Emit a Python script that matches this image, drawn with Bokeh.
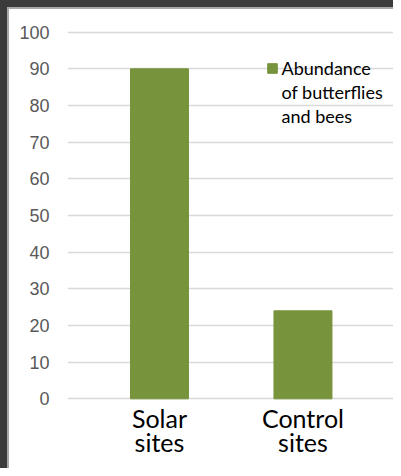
from bokeh.plotting import figure
from bokeh.models import ColumnDataSource, Range1d, Legend, LegendItem, FixedTicker, Spacer
from bokeh.layouts import row, column
from bokeh.embed import file_html
from bokeh.resources import INLINE

categories = ["Solar\nsites", "Control\nsites"]
abundance = [90, 24]
y_ticks = [0, 10, 20, 30, 40, 50, 60, 70, 80, 90, 100]
legend_lines = ["Abundance", "of butterflies", "and bees"]

DARK = "#3b3b3b"
FRAME = "#a8a8a8"

positions = list(range(len(categories)))
src = ColumnDataSource(dict(x=positions, top=abundance))

p = figure(width=384, height=459, output_backend="svg", toolbar_location=None,
           x_range=Range1d(-0.641, 1.631), y_range=Range1d(-1, 101),
           min_border_left=58, min_border_right=0, min_border_top=19, min_border_bottom=66)
p.outline_line_color = None
p.background_fill_color = "white"
p.border_fill_color = "white"

r = p.vbar(x="x", top="top", bottom=0, width=0.404, source=src, color="#77933C")
blank = p.vbar(x=[], top=[], width=0.4, fill_alpha=0, line_alpha=0)

p.xgrid.grid_line_color = None
p.ygrid.grid_line_color = "#d9d9d9"
p.ygrid.grid_line_width = 1.5
p.ygrid.ticker = FixedTicker(ticks=y_ticks)

ya = p.yaxis[0]
ya.ticker = FixedTicker(ticks=y_ticks)
ya.axis_line_color = None
ya.major_tick_line_color = None
ya.minor_tick_line_color = None
ya.major_tick_out = 0
ya.major_label_standoff = 18
ya.major_label_text_font = "Liberation Sans"
ya.major_label_text_font_size = "18px"
ya.major_label_text_color = "#595959"

xa = p.xaxis[0]
xa.ticker = FixedTicker(ticks=positions)
xa.major_label_overrides = {i: c for i, c in zip(positions, categories)}
xa.axis_line_color = None
xa.major_tick_line_color = None
xa.minor_tick_line_color = None
xa.major_tick_out = 0
xa.major_label_standoff = 0
xa.major_label_text_font = "Lato"
xa.major_label_text_font_size = "25px"
xa.major_label_text_color = "black"
xa.major_label_text_line_height = 0.83

items = [LegendItem(label=legend_lines[0], renderers=[r])] + \
        [LegendItem(label=t, renderers=[blank]) for t in legend_lines[1:]]
legend = Legend(items=items,
                location=(198.5, 274), padding=0, margin=0, spacing=0,
                glyph_width=12, glyph_height=12, label_standoff=4, label_height=24,
                label_text_font="Lato", label_text_font_size="18px",
                label_text_color="black",
                background_fill_alpha=0, border_line_color=None)
p.add_layout(legend)

top_bar = Spacer(width=393, height=7, styles={"background-color": DARK})
left_bar = Spacer(width=7, height=461, styles={"background-color": DARK})
left_line = Spacer(width=2, height=461, styles={"background-color": FRAME})
top_line = Spacer(width=384, height=2, styles={"background-color": FRAME})

root = column(top_bar, row(left_bar, left_line, column(top_line, p, spacing=0), spacing=0), spacing=0)

open("out.html", "w").write(file_html(root, INLINE))
